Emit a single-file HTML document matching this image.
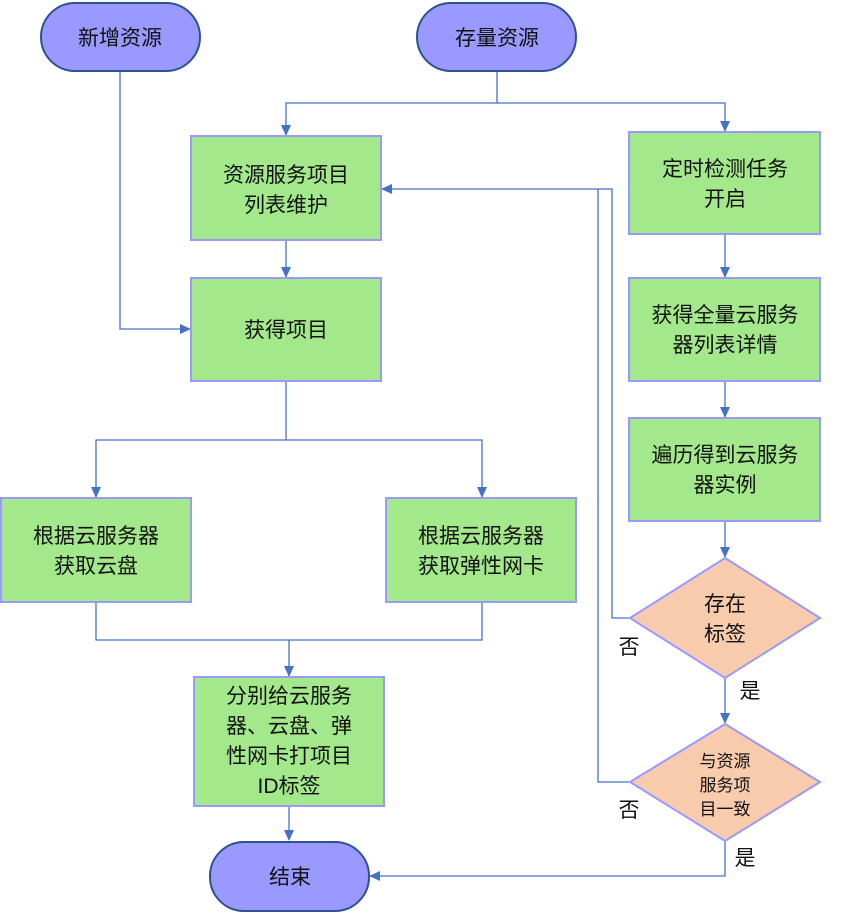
<!DOCTYPE html>
<html><head><meta charset="utf-8"><style>
html,body{margin:0;padding:0;background:#fff;}
svg{display:block;}
text{font-family:"Liberation Sans","Noto Sans CJK SC",sans-serif;font-size:21px;fill:#111;text-anchor:middle;}
</style></head><body>
<svg width="850" height="913" viewBox="0 0 850 913" xmlns="http://www.w3.org/2000/svg">
<defs><marker id="a" markerWidth="12" markerHeight="12" refX="10" refY="5" orient="auto" markerUnits="userSpaceOnUse"><path d="M0,0 L11,5 L0,10 z" fill="#4472c4"/></marker></defs>
<g fill="none" stroke="#4472c4" stroke-width="1.3">
<path d="M120,71 V329 H190" marker-end="url(#a)"/>
<path d="M497,71 V103 H286 V135" marker-end="url(#a)"/>
<path d="M497,103 H725 V131" marker-end="url(#a)"/>
<path d="M286,240 V277" marker-end="url(#a)"/>
<path d="M286,381 V440 H96 V497" marker-end="url(#a)"/>
<path d="M286,440 H482 V497" marker-end="url(#a)"/>
<path d="M725,234 V277" marker-end="url(#a)"/>
<path d="M725,381 V417" marker-end="url(#a)"/>
<path d="M725,521 V557" marker-end="url(#a)"/>
<path d="M96,602 V640 H482 V602"/>
<path d="M289,640 V676" marker-end="url(#a)"/>
<path d="M289,806 V840" marker-end="url(#a)"/>
<path d="M630,618 H612 V189 H382" marker-end="url(#a)"/>
<path d="M630,782 H598 V189"/>
<path d="M725,678 V723" marker-end="url(#a)"/>
<path d="M725,841 V876 H370" marker-end="url(#a)"/>
</g>
<g fill="#9999ff" stroke="#2f528f" stroke-width="2">
<rect x="41" y="3" width="159" height="68" rx="34"/>
<rect x="417" y="3" width="159" height="68" rx="34"/>
<rect x="210" y="842" width="159" height="69" rx="34"/>
</g>
<g fill="#a3e88b" stroke="#9999ff" stroke-width="2">
<rect x="191" y="136" width="190" height="104"/>
<rect x="191" y="278" width="190" height="103"/>
<rect x="629" y="132" width="191" height="102"/>
<rect x="629" y="278" width="191" height="103"/>
<rect x="629" y="418" width="191" height="103"/>
<rect x="1" y="498" width="190" height="104"/>
<rect x="386" y="498" width="190" height="104"/>
<rect x="194" y="677" width="190" height="129"/>
</g>
<g fill="#f8cbad" stroke="#9999ff" stroke-width="2">
<path d="M725,558 L820,618 L725,678 L630,618 z"/>
<path d="M725,724 L820,782 L725,841 L630,782 z"/>
</g>
<text x="120" y="45">新增资源</text>
<text x="497" y="45">存量资源</text>
<text x="290" y="884">结束</text>
<text x="286" y="182">资源服务项目</text><text x="286" y="212">列表维护</text>
<text x="286" y="337">获得项目</text>
<text x="725" y="176">定时检测任务</text><text x="725" y="206">开启</text>
<text x="725" y="322">获得全量云服务</text><text x="725" y="352">器列表详情</text>
<text x="725" y="462">遍历得到云服务</text><text x="725" y="492">器实例</text>
<text x="96" y="543">根据云服务器</text><text x="96" y="573">获取云盘</text>
<text x="481" y="543">根据云服务器</text><text x="481" y="573">获取弹性网卡</text>
<text x="289" y="703">分别给云服务</text><text x="289" y="733">器、云盘、弹</text><text x="289" y="763">性网卡打项目</text><text x="289" y="793">ID标签</text>
<text x="725" y="611">存在</text><text x="725" y="641">标签</text>
<text x="725" y="767" style="font-size:17px">与资源</text><text x="725" y="791" style="font-size:17px">服务项</text><text x="725" y="815" style="font-size:17px">目一致</text>
<text x="629" y="654">否</text>
<text x="750" y="698">是</text>
<text x="629" y="817">否</text>
<text x="745" y="865">是</text>
</svg>
</body></html>
